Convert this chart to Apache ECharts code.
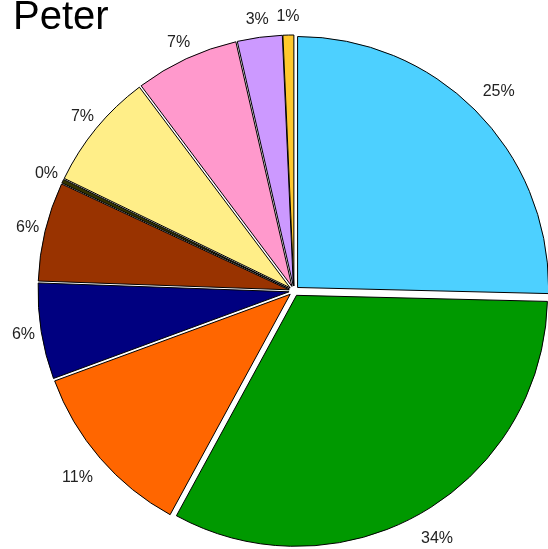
<!DOCTYPE html>
<html><head><meta charset="utf-8">
<script src="https://cdn.jsdelivr.net/npm/echarts@6/dist/echarts.min.js"></script>
<style>html,body{margin:0;padding:0;background:#fff}#c{width:548px;height:549px}</style>
</head><body><div id="c"></div>
<script>
const chartTitle = 'Peter';
const sliceNames = ['S1','S2','S3','S4','S5','S6','S7','S8','S9','S10'];
const sliceValues = [25.5, 32.7, 11.5, 6.2, 6.4, 0.25, 7.6, 6.7, 2.9, 0.7];
const sliceLabels = ['25%','34%','11%','6%','6%','0%','7%','7%','3%','1%'];
const sliceColors = ['#4dd0ff','#009900','#ff6600','#000080','#993300','#333300','#ffee88','#ff99cc','#cc99ff','#ffc82c'];

const FONT = '"Liberation Sans", Arial, sans-serif';
const CX = 294, CY = 291, R = 251;

const mainData = sliceValues.map((v, i) => ({
  name: sliceNames[i], value: v, selected: true,
  itemStyle: { color: sliceColors[i] }
}));
function labelData(pred) {
  return sliceValues.map((v, i) => ({
    name: sliceNames[i], value: v,
    label: { show: pred(v), formatter: sliceLabels[i] }
  }));
}
const labelSeries = (radius, pred) => ({
  type: 'pie', silent: true, animation: false,
  center: [CX, CY], radius: radius, startAngle: 90, clockwise: true,
  avoidLabelOverlap: false, minShowLabelAngle: 0,
  itemStyle: { color: 'transparent', borderWidth: 0 },
  label: { position: 'inside', color: '#222', fontSize: 16, fontFamily: FONT },
  labelLine: { show: false },
  emphasis: { disabled: true },
  data: labelData(pred)
});

const chart = echarts.init(document.getElementById('c'), null, { renderer: 'canvas' });
chart.setOption({
  animation: false,
  backgroundColor: '#fff',
  title: {
    text: chartTitle, left: 8, top: -7,
    textStyle: { fontSize: 40, fontWeight: 'normal', color: '#000', fontFamily: FONT }
  },
  series: [
    {
      type: 'pie', center: [CX, CY], radius: R, startAngle: 90, clockwise: true,
      selectedMode: 'multiple', selectedOffset: 5, silent: true,
      label: { show: false }, labelLine: { show: false },
      itemStyle: { borderColor: '#000', borderWidth: 1 },
      emphasis: { disabled: true },
      data: mainData
    },
    labelSeries([267, 299], v => v >= 10),
    labelSeries([255, 287], v => v < 10)
  ]
});
</script></body></html>
